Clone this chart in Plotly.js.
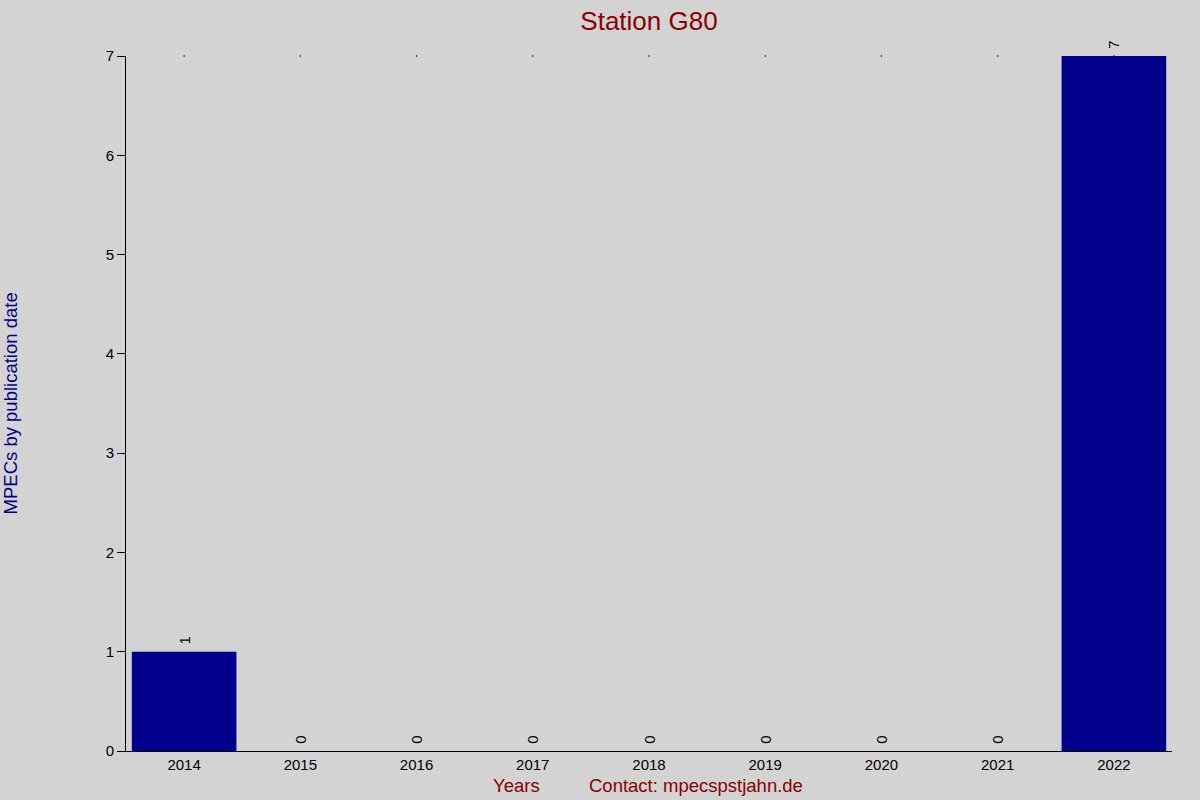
<!DOCTYPE html>
<html>
<head>
<meta charset="utf-8">
<script src="https://cdn.plot.ly/plotly-3.0.1.min.js"></script>
<style>
  html, body { margin: 0; padding: 0; background: #d3d3d3; }
  #chart { width: 1200px; height: 800px; }
</style>
</head>
<body>
<div id="chart"></div>
<script>
// data
const years = ['2014', '2015', '2016', '2017', '2018', '2019', '2020', '2021', '2022'];
const counts = [1, 0, 0, 0, 0, 0, 0, 0, 7];
const yTicks = [0, 1, 2, 3, 4, 5, 6, 7];

const darkRed = '#8b0000';
const darkBlue = '#00008b';

const bars = {
    type: 'bar',
    x: years,
    y: counts,
    width: 0.9,
    marker: { color: darkBlue, line: { width: 0 } },
    // leading nbsp gives the little gap between bar top and label
    text: counts.map(v => '\u00a0' + v),
    textposition: 'outside',
    textangle: -90,
    cliponaxis: false,
    textfont: { family: 'Liberation Sans, Arial, sans-serif', size: 15, color: '#000' },
    hoverinfo: 'x+y'
};

// the little dots along the top edge
const topDots = {
    type: 'scatter',
    mode: 'markers',
    x: years,
    y: years.map(() => yTicks[yTicks.length - 1]),
    marker: { color: '#000', size: 1.5 },
    cliponaxis: false,
    hoverinfo: 'skip'
};

const layout = {
    width: 1200,
    height: 800,
    paper_bgcolor: '#d3d3d3',
    plot_bgcolor: '#d3d3d3',
    showlegend: false,
    margin: { l: 126, r: 28, t: 56, b: 49 },
    font: { family: 'Liberation Sans, Arial, sans-serif', size: 15, color: '#000' },
    title: {
        text: 'Station G80',
        font: { size: 26, color: darkRed },
        x: 0.5, xref: 'paper', xanchor: 'center',
        y: 0.985, yref: 'container', yanchor: 'top'
    },
    xaxis: {
        type: 'category',
        range: [-0.5, years.length - 0.5],
        showline: true, linecolor: '#000', linewidth: 1,
        ticks: '', showgrid: false, zeroline: false,
        tickfont: { size: 15 },
        fixedrange: true
    },
    yaxis: {
        range: [0, 7],
        tickvals: yTicks,
        showline: true, linecolor: '#000', linewidth: 1,
        ticks: 'outside', ticklen: 8, tickcolor: '#000',
        showgrid: false, zeroline: false,
        tickfont: { size: 15 },
        fixedrange: true
    },
    annotations: [
        {
            text: 'MPECs by publication date',
            xref: 'paper', yref: 'paper', x: -0.11, y: 0.5,
            xanchor: 'center', yanchor: 'middle', textangle: -90,
            showarrow: false, font: { size: 18.5, color: darkBlue }
        },
        {
            text: 'Years',
            xref: 'paper', yref: 'paper', x: 0.373, y: -0.05,
            xanchor: 'center', yanchor: 'middle',
            showarrow: false, font: { size: 18.5, color: darkRed }
        },
        {
            text: 'Contact: mpecspstjahn.de',
            xref: 'paper', yref: 'paper', x: 0.545, y: -0.05,
            xanchor: 'center', yanchor: 'middle',
            showarrow: false, font: { size: 18.5, color: darkRed }
        }
    ]
};

Plotly.newPlot('chart', [bars, topDots], layout, { displayModeBar: false, staticPlot: true });
</script>
</body>
</html>
